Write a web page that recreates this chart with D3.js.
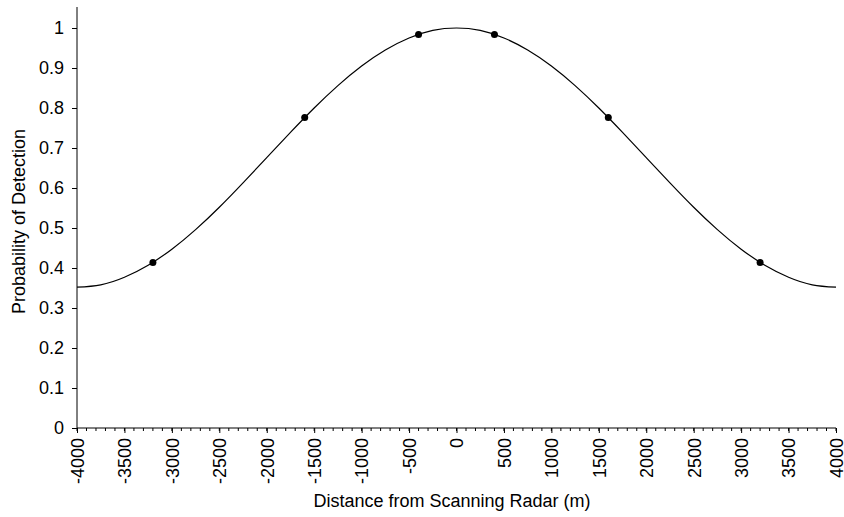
<!DOCTYPE html>
<html><head><meta charset="utf-8">
<script src="https://cdn.jsdelivr.net/npm/d3@7"></script>
<style>body{margin:0;background:#fff}svg{display:block}text{font-family:"Liberation Sans",Arial,sans-serif;fill:#000}</style>
</head><body><svg id="c" width="844" height="517"></svg>
<script>
const curveX = [-4000,-3750,-3500,-3250,-3000,-2750,-2500,-2250,-2000,-1750,-1500,-1250,-1000,-750,-500,-250,0,250,500,750,1000,1250,1500,1750,2000,2250,2500,2750,3000,3250,3500,3750,4000];
const curveY = [0.352,0.358,0.377,0.407,0.447,0.496,0.552,0.613,0.676,0.739,0.800,0.856,0.905,0.945,0.975,0.994,1.000,0.994,0.975,0.945,0.905,0.856,0.800,0.739,0.676,0.613,0.552,0.496,0.447,0.407,0.377,0.358,0.352];
const pointX = [-3200,-1600,-400,400,1600,3200];
const pointY = [0.414,0.776,0.984,0.984,0.776,0.414];
const xTicks = [-4000,-3500,-3000,-2500,-2000,-1500,-1000,-500,0,500,1000,1500,2000,2500,3000,3500,4000];
const yTicks = [0,0.1,0.2,0.3,0.4,0.5,0.6,0.7,0.8,0.9,1];

const FS = "18px";
const svg = d3.select("#c");
const x = d3.scaleLinear().domain([-4000,4000]).range([77,836]);
const y = d3.scaleLinear().domain([0,1]).range([428,28]);

// y axis
const ya = svg.append("g").attr("transform","translate(77,0)")
  .call(d3.axisLeft(y).tickValues(yTicks).tickFormat(d=>String(+d.toFixed(1))).tickSize(5).tickPadding(8));
ya.select(".domain").remove();
ya.append("line").attr("x1",0).attr("x2",0).attr("y1",7).attr("y2",428).attr("stroke","#000");
ya.selectAll("text").style("font-size",FS).style("font-family","Liberation Sans, Arial, sans-serif").attr("fill","#000");

// x minor ticks
const minor = d3.range(-4000,4001,100);
svg.append("g").selectAll("line").data(minor).join("line")
  .attr("x1",d=>x(d)).attr("x2",d=>x(d)).attr("y1",428).attr("y2",431).attr("stroke","#000");

// x axis
const xa = svg.append("g").attr("transform","translate(0,428)")
  .call(d3.axisBottom(x).tickValues(xTicks).tickFormat(d=>String(d)).tickSize(5).tickSizeOuter(0));
xa.select(".domain").attr("d","M77,0H836");
xa.selectAll("text").style("font-size",FS).style("font-family","Liberation Sans, Arial, sans-serif")
  .attr("fill","#000").attr("transform","rotate(-90)").attr("text-anchor","end")
  .attr("x",-10).attr("y",0).attr("dy","0.35em");

// curve
svg.append("path").datum(curveX.map((d,i)=>[d,curveY[i]]))
  .attr("d",d3.line().x(d=>x(d[0])).y(d=>y(d[1])).curve(d3.curveNatural))
  .attr("fill","none").attr("stroke","#000").attr("stroke-width",1.2);

// points
svg.append("g").selectAll("circle").data(pointX.map((d,i)=>[d,pointY[i]])).join("circle")
  .attr("cx",d=>x(d[0])).attr("cy",d=>y(d[1])).attr("r",3.5).attr("fill","#000");

// titles
svg.append("text").attr("x",452).attr("y",507).attr("text-anchor","middle").style("font-size",FS).text("Distance from Scanning Radar (m)");
svg.append("text").attr("transform","translate(25,221.5) rotate(-90)").attr("text-anchor","middle").style("font-size",FS).text("Probability of Detection");
</script></body></html>
